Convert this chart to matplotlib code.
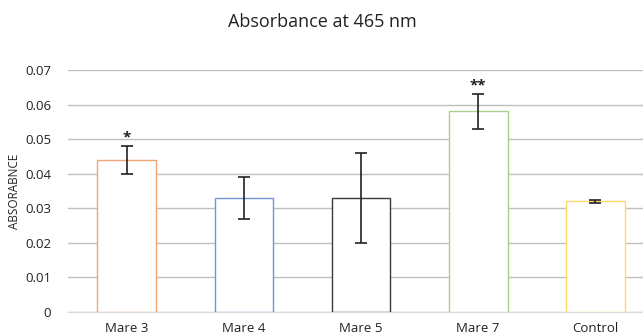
import matplotlib
matplotlib.use("Agg")
import matplotlib.pyplot as plt

categories = ["Mare 3", "Mare 4", "Mare 5", "Mare 7", "Control"]
values = [0.044, 0.033, 0.033, 0.058, 0.032]
errors = [0.004, 0.006, 0.013, 0.005, 0.0005]
stars = ["*", "", "", "**", ""]
colors = ["#F4A576", "#6F95D6", "#3A3A3A", "#A9D18E", "#FFD966"]
yticks = [0, 0.01, 0.02, 0.03, 0.04, 0.05, 0.06, 0.07]
ytick_labels = ["0", "0.01", "0.02", "0.03", "0.04", "0.05", "0.06", "0.07"]

plt.rcParams['font.family'] = ['Open Sans', 'DejaVu Sans']

W, H = 643, 336
fig = plt.figure(figsize=(W/100, H/100), dpi=100)
left, right = 68, 68 + 5*117.2
bottom, top = 312, 70
ax = fig.add_axes([left/W, (H-bottom)/H, (right-left)/W, (bottom-top)/H])

x = list(range(len(categories)))
ax.bar(x, values, width=0.5, facecolor="white", edgecolor=colors, linewidth=1.0, zorder=3)
ax.errorbar(x, values, yerr=errors, fmt="none", ecolor="#222222", elinewidth=1.2,
            capsize=4, capthick=1.2, zorder=4)
for xi, v, e, s in zip(x, values, errors, stars):
    if s:
        ax.text(xi, v + e + 0.0004, s, ha="center", va="bottom", fontsize=11,
                fontweight="bold", color="#222222")

ax.set_xlim(-0.5, len(categories) - 0.5)
ax.set_ylim(0, 0.07)
ax.set_yticks(yticks)
ax.set_yticklabels(ytick_labels)
ax.set_xticks(x)
ax.set_xticklabels(categories)
ax.grid(axis="y", color="#BFBFBF", linewidth=1.0, zorder=0)
for s in ["top", "right", "left"]:
    ax.spines[s].set_visible(False)
ax.spines["bottom"].set_color("#D9D9D9")
ax.tick_params(axis="x", length=0, labelsize=9.5, colors="#222222", pad=7)
ax.tick_params(axis="y", length=0, labelsize=9.5, colors="#222222", pad=12)
ax.set_ylabel("ABSORABNCE", fontsize=8.5, color="#222222", labelpad=3)
fig.text(322/W, 1 - 22/H, "Absorbance at 465 nm", ha="center", va="center", fontsize=13, color="#222222")

fig.savefig("out.png", dpi=100)
